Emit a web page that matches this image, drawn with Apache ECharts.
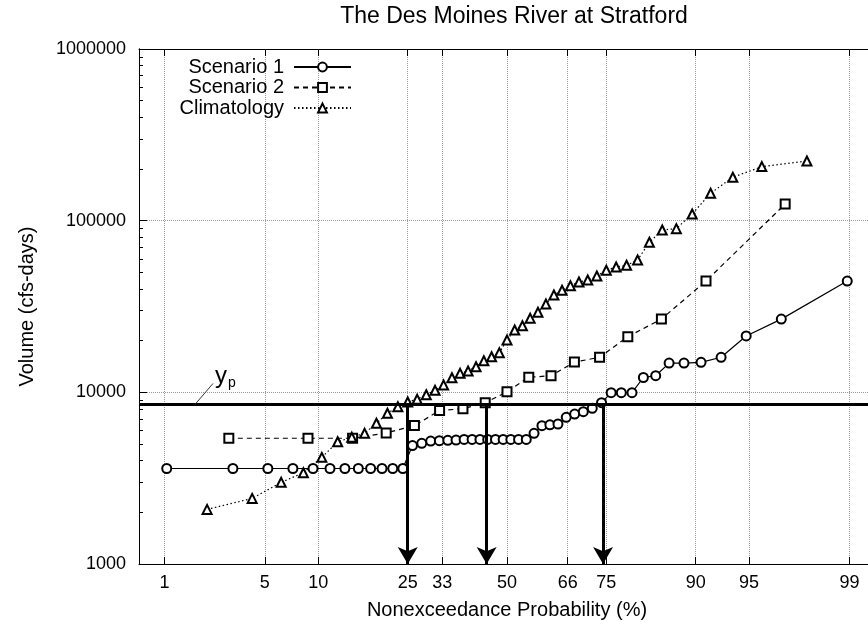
<!DOCTYPE html>
<html>
<head>
<meta charset="utf-8">
<title>The Des Moines River at Stratford</title>
<script src="https://cdn.jsdelivr.net/npm/echarts@6/dist/echarts.min.js"></script>
<style>
  html, body { margin: 0; padding: 0; background: #fff; overflow: hidden; }
  /* the plot frame runs a few pixels past the right edge of the window */
  #chart { width: 876px; height: 630px; }
</style>
</head>
<body>
<div id="chart"></div>
<script>
// probability (%) tick marks on the normal-probability x axis
const xTickPercents = [1, 5, 10, 25, 33, 50, 66, 75, 90, 95, 99];
// minor ticks on the log y axis
const yMinorTicks = [2000, 3000, 4000, 5000, 6000, 7000, 8000, 9000,
  20000, 30000, 40000, 50000, 60000, 70000, 80000, 90000,
  200000, 300000, 400000, 500000, 600000, 700000, 800000, 900000];

const scenario1Prob = [1.04, 3.13, 5.21, 7.29, 9.38, 11.46, 13.54, 15.63, 17.71, 19.79, 21.88, 23.96,
  26.04, 28.13, 30.21, 32.29, 34.38, 36.46, 38.54, 40.63, 42.71, 44.79, 46.88, 48.96,
  51.04, 53.13, 55.21, 57.29, 59.38, 61.46, 63.54, 65.63, 67.71, 69.79, 71.88, 73.96,
  76.04, 78.13, 80.21, 82.29, 84.38, 86.46, 88.54, 90.63, 92.71, 94.79, 96.88, 98.96];
const scenario1Volume = [3600, 3600, 3600, 3600, 3600, 3600, 3600, 3600, 3600, 3600, 3600, 3600,
  4900, 5050, 5200, 5230, 5250, 5270, 5320, 5320, 5320, 5320, 5320, 5320,
  5320, 5320, 5320, 5770, 6390, 6470, 6540, 7150, 7470, 7710, 8070, 8700,
  9950, 9950, 9950, 12200, 12500, 14800, 14800, 14950, 16000, 21300, 26700, 44500];

const scenario2Prob = [2.94, 8.82, 14.71, 20.59, 26.47, 32.35, 38.24, 44.12, 50.0,
  55.88, 61.76, 67.65, 73.53, 79.41, 85.29, 91.18, 97.06];
const scenario2Volume = [5400, 5400, 5400, 5800, 6400, 7830, 8020, 8700, 10080,
  12230, 12500, 15000, 16000, 21100, 26700, 44500, 125000];

const climatologyProb = [2.08, 4.17, 6.25, 8.33, 10.42, 12.5, 14.58, 16.67, 18.75, 20.83, 22.92, 25.0,
  27.08, 29.17, 31.25, 33.33, 35.42, 37.5, 39.58, 41.67, 43.75, 45.83, 47.92, 50.0,
  52.08, 54.17, 56.25, 58.33, 60.42, 62.5, 64.58, 66.67, 68.75, 70.83, 72.92, 75.0,
  77.08, 79.17, 81.25, 83.33, 85.42, 87.5, 89.58, 91.67, 93.75, 95.83, 97.92];
const climatologyVolume = [2080, 2410, 2990, 3400, 4180, 5150, 5470, 5770, 6600, 7550, 8240, 8780,
  9120, 9680, 10270, 11030, 12160, 12900, 13310, 14100, 15280, 16130, 17020, 20180,
  23070, 24440, 26990, 29250, 32710, 36900, 39300, 41810, 43940, 45120, 47620, 51400,
  53700, 54950, 59020, 74820, 88280, 89830, 109400, 144500, 179100, 206500, 222800];

// threshold y_p and the probabilities where the curves cross it
const ypVolume = 8500;
const arrowProbs = [25, 44.5, 74.3];

const FONT = '"Liberation Sans", Arial, Helvetica, sans-serif';

// inverse standard normal CDF (Acklam)
function probit(p) {
  const a = [-3.969683028665376e+01, 2.209460984245205e+02, -2.759285104469687e+02, 1.383577518672690e+02, -3.066479806614716e+01, 2.506628277459239e+00];
  const b = [-5.447609879822406e+01, 1.615858368580409e+02, -1.556989798598866e+02, 6.680131188771972e+01, -1.328068155288572e+01];
  const c = [-7.784894002430293e-03, -3.223964580411365e-01, -2.400758277161838e+00, -2.549732539343734e+00, 4.374664141464968e+00, 2.938163982698783e+00];
  const d = [7.784695709041462e-03, 3.224671290700398e-01, 2.445134137142996e+00, 3.754408661907416e+00];
  const pl = 0.02425;
  let q, r;
  if (p < pl) {
    q = Math.sqrt(-2 * Math.log(p));
    return (((((c[0]*q+c[1])*q+c[2])*q+c[3])*q+c[4])*q+c[5]) / ((((d[0]*q+d[1])*q+d[2])*q+d[3])*q+1);
  }
  if (p <= 1 - pl) {
    q = p - 0.5; r = q * q;
    return (((((a[0]*r+a[1])*r+a[2])*r+a[3])*r+a[4])*r+a[5])*q / (((((b[0]*r+b[1])*r+b[2])*r+b[3])*r+b[4])*r+1);
  }
  q = Math.sqrt(-2 * Math.log(1 - p));
  return -(((((c[0]*q+c[1])*q+c[2])*q+c[3])*q+c[4])*q+c[5]) / ((((d[0]*q+d[1])*q+d[2])*q+d[3])*q+1);
}

const xTicks = xTickPercents.map(p => probit(p / 100));
function xLabel(v) {
  for (let i = 0; i < xTicks.length; i++) {
    if (Math.abs(xTicks[i] - v) < 1e-6) return String(xTickPercents[i]);
  }
  return '';
}
const pairs = (probs, vols) => probs.map((p, i) => [probit(p / 100), vols[i]]);

const gridLine = { show: true, lineStyle: { color: '#999', type: 'dotted', width: 1 } };

const legendNames = ['Scenario 1', 'Scenario 2', 'Climatology'];

const option = {
  animation: false,
  backgroundColor: '#fff',
  textStyle: { fontFamily: FONT },
  title: {
    text: 'The Des Moines River at Stratford',
    left: 514, top: 5, textAlign: 'center', padding: 0,
    textStyle: { fontSize: 23, fontWeight: 'normal', color: '#000', fontFamily: FONT }
  },
  legend: legendNames.map((name, i) => ({
    data: [name],
    right: 524,
    top: 57 + i * 20.5,
    orient: 'vertical',
    align: 'right',
    padding: 0,
    itemWidth: 57,
    itemHeight: 11,
    selectedMode: false,
    textStyle: { fontSize: 20, color: '#000', fontFamily: FONT, padding: [0, 5, 0, 0] }
  })),
  grid: { left: 139, top: 49, width: 736, height: 515, containLabel: false },
  xAxis: [{
    type: 'value', min: -2.5, max: 2.5, position: 'bottom',
    axisLine: { onZero: false, lineStyle: { color: '#000', width: 1 } },
    axisTick: { inside: true, length: 7, customValues: xTicks, lineStyle: { color: '#000' } },
    axisLabel: { customValues: xTicks, formatter: xLabel, fontSize: 18, color: '#000', margin: 10, fontFamily: FONT },
    splitLine: gridLine,
    name: 'Nonexceedance Probability (%)', nameLocation: 'middle', nameGap: 36,
    nameTextStyle: { fontSize: 20, color: '#000', fontFamily: FONT }
  }, {
    type: 'value', min: -2.5, max: 2.5, position: 'top',
    axisLine: { onZero: false, lineStyle: { color: '#000', width: 1 } },
    axisTick: { inside: true, length: 7, customValues: xTicks, lineStyle: { color: '#000' } },
    axisLabel: { show: false },
    splitLine: { show: false }
  }],
  yAxis: [{
    type: 'log', logBase: 10, min: 1000, max: 1000000, position: 'left',
    axisLine: { show: true, onZero: false, lineStyle: { color: '#000', width: 1 } },
    axisTick: { show: true, inside: true, length: 8, lineStyle: { color: '#000' } },
    axisLabel: { fontSize: 18, color: '#000', margin: 13, fontFamily: FONT,
      formatter: v => String(Math.round(v)) },
    splitLine: gridLine,
    name: 'Volume (cfs-days)', nameLocation: 'middle', nameGap: 102, nameRotate: 90,
    nameTextStyle: { fontSize: 20, color: '#000', fontFamily: FONT }
  }, {
    // minor ticks, in log10 units
    type: 'value', min: 3, max: 6, position: 'left', offset: 0,
    axisLine: { show: true, onZero: false, lineStyle: { color: '#000', width: 1 } },
    axisTick: { show: true, inside: true, length: 4, customValues: yMinorTicks.map(Math.log10), lineStyle: { color: '#000', width: 1 } },
    axisLabel: { show: false },
    splitLine: { show: false }
  }],
  series: [{
    name: 'Scenario 1', type: 'line', xAxisIndex: 0, yAxisIndex: 0,
    data: pairs(scenario1Prob, scenario1Volume),
    symbol: 'emptyCircle', symbolSize: 9,
    lineStyle: { color: '#000', width: 1.2, type: 'solid' },
    itemStyle: { color: '#000', borderColor: '#000', borderWidth: 1.1 }
  }, {
    name: 'Scenario 2', type: 'line', xAxisIndex: 0, yAxisIndex: 0,
    data: pairs(scenario2Prob, scenario2Volume),
    symbol: 'emptyRect', symbolSize: 9,
    lineStyle: { color: '#000', width: 1.2, type: [5, 4] },
    itemStyle: { color: '#000', borderColor: '#000', borderWidth: 1.2 }
  }, {
    name: 'Climatology', type: 'line', xAxisIndex: 0, yAxisIndex: 0,
    data: pairs(climatologyProb, climatologyVolume),
    symbol: 'emptyTriangle', symbolSize: 9,
    lineStyle: { color: '#000', width: 1.2, type: [1.5, 2.5] },
    itemStyle: { color: '#000', borderColor: '#000', borderWidth: 1.6 }
  }, {
    name: 'yp', type: 'line', xAxisIndex: 0, yAxisIndex: 0, data: [], z: 5,
    markLine: {
      silent: true, symbol: ['none', 'none'], label: { show: false },
      lineStyle: { color: '#000', width: 3, type: 'solid' },
      data: [{ yAxis: ypVolume }]
    }
  }, {
    name: 'arrows', type: 'line', xAxisIndex: 0, yAxisIndex: 0, data: [], z: 5,
    markLine: {
      silent: true, symbol: ['none', 'arrow'], symbolSize: [15, 17], label: { show: false },
      lineStyle: { color: '#000', width: 3, type: 'solid' },
      data: arrowProbs.map(p => [
        { coord: [probit(p / 100), ypVolume] },
        { coord: [probit(p / 100), 1000] }
      ])
    }
  }]
};

const chart = echarts.init(document.getElementById('chart'), null, { renderer: 'canvas' });
chart.setOption(option);

// y_p label with its leader line, anchored on the threshold line
const origin = chart.convertToPixel({ xAxisIndex: 0, yAxisIndex: 0 }, [-2.5, ypVolume]);
const ax = origin[0] + 56, ay = origin[1];
chart.setOption({
  graphic: [
    { type: 'line', z: 10, shape: { x1: ax, y1: ay, x2: ax + 18, y2: ay - 21 },
      style: { stroke: '#333', lineWidth: 1 } },
    { type: 'text', z: 10, x: ax + 20, y: ay - 28,
      style: { text: 'y', font: '24px ' + FONT, fill: '#000', verticalAlign: 'middle' } },
    { type: 'text', z: 10, x: ax + 33, y: ay - 21,
      style: { text: 'p', font: '14px ' + FONT, fill: '#000', verticalAlign: 'middle' } }
  ]
});
</script>
</body>
</html>
